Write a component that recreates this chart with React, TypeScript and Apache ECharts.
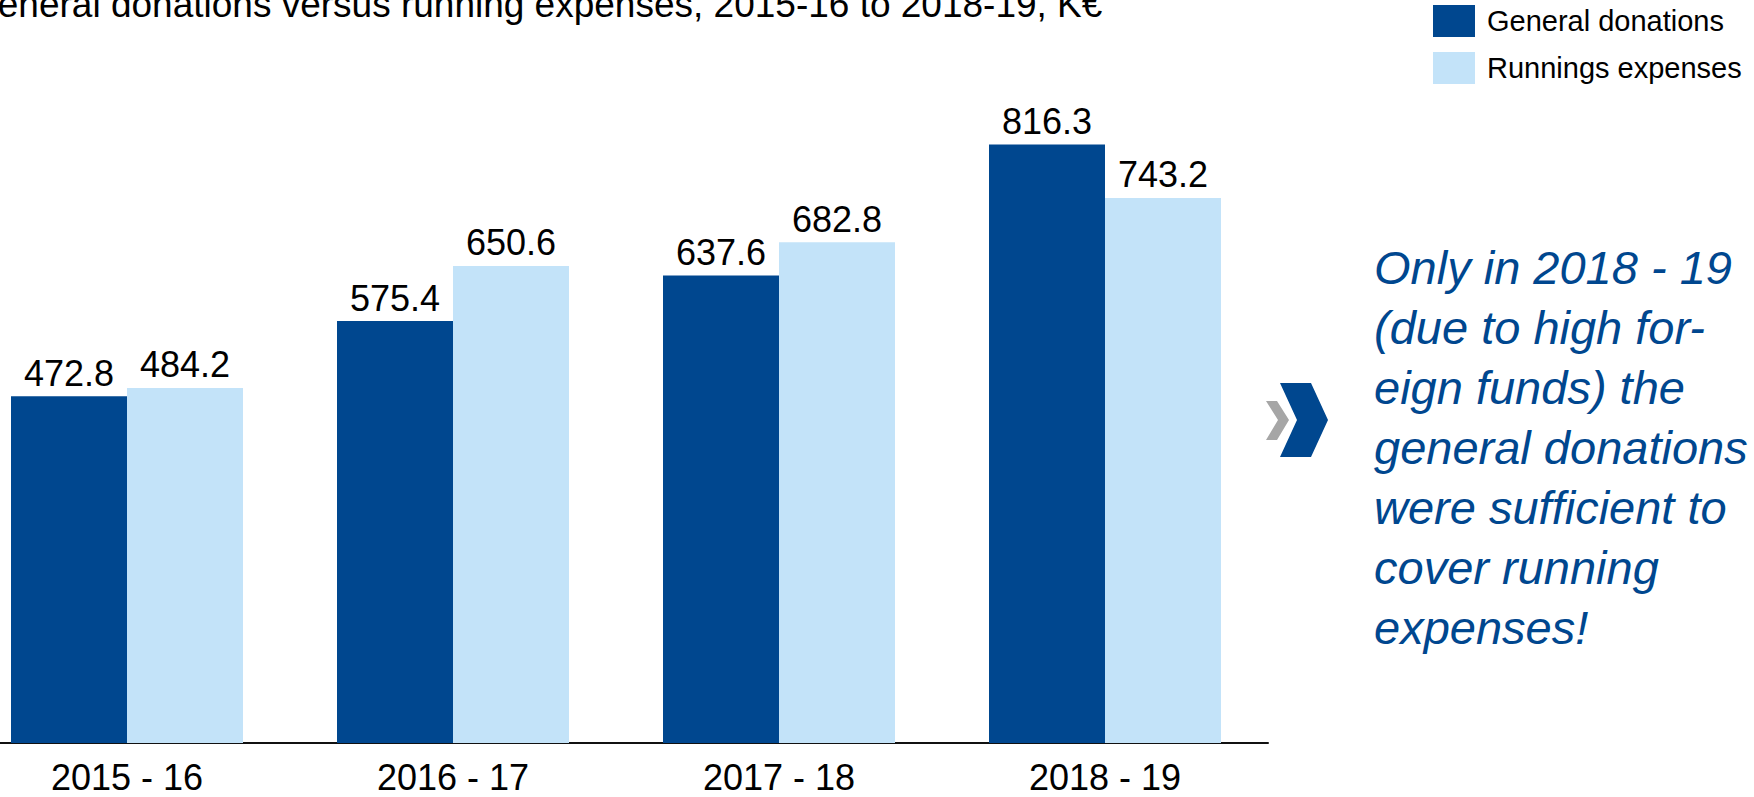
import React, { useEffect, useRef } from "react";
import * as echarts from "echarts";

const categories = ["2015 - 16", "2016 - 17", "2017 - 18", "2018 - 19"];
const generalDonations = [472.8, 575.4, 637.6, 816.3];
const runningExpenses = [484.2, 650.6, 682.8, 743.2];
const seriesNames = ["General donations", "Runnings expenses"];
const titleText = "General donations versus running expenses, 2015-16 to 2018-19, K€";
const noteLines = [
  "Only in 2018 - 19",
  "(due to high for-",
  "eign funds) the",
  "general donations",
  "were sufficient to",
  "cover running",
  "expenses!",
];

const DARK = "#00478F";
const LIGHT = "#C3E3F9";
const FONT = "'Liberation Sans', Arial, Helvetica, sans-serif";
const SHIFT = 36; // the chart canvas starts 36px left of the page edge

export default function App() {
  const ref = useRef<HTMLDivElement>(null);
  useEffect(() => {
    if (!ref.current) return;
    const chart = echarts.init(ref.current, null, { renderer: "svg" });
    const labelStyle = {
      show: true,
      position: "top" as const,
      distance: 5,
      fontSize: 36,
      fontFamily: FONT,
      color: "#000",
      formatter: (p: any) => p.value.toFixed(1),
    };
    const sx = (x: number) => x + SHIFT;
    chart.setOption({
      animation: false,
      backgroundColor: "#fff",
      textStyle: { fontFamily: FONT },
      grid: { left: 0, right: 486, top: 83, bottom: 54, containLabel: false },
      legend: {
        orient: "vertical",
        left: sx(1433),
        top: 5,
        itemWidth: 42,
        itemHeight: 32,
        itemGap: 15,
        icon: "rect",
        padding: 0,
        selectedMode: false,
        textStyle: { fontSize: 29, color: "#000", fontFamily: FONT, padding: [0, 0, 0, 7] },
        data: seriesNames,
      },
      xAxis: {
        type: "category",
        data: categories,
        axisLine: { show: true, lineStyle: { color: "#111", width: 2 } },
        axisTick: { show: false },
        axisLabel: { fontSize: 36, color: "#000", fontFamily: FONT, margin: 16, interval: 0 },
      },
      yAxis: {
        type: "value",
        min: 0,
        max: 900,
        show: false,
        splitLine: { show: false },
      },
      series: [
        {
          name: seriesNames[0],
          type: "bar",
          data: generalDonations,
          barWidth: 116,
          barGap: "0%",
          itemStyle: { color: DARK },
          label: labelStyle,
        },
        {
          name: seriesNames[1],
          type: "bar",
          data: runningExpenses,
          barWidth: 116,
          barGap: "0%",
          itemStyle: { color: LIGHT },
          label: labelStyle,
        },
      ],
      graphic: [
        {
          type: "text",
          left: sx(-31),
          top: -14,
          style: {
            text: titleText,
            fontSize: 37,
            fontFamily: FONT,
            fill: "#000",
          },
        },
        {
          type: "polygon",
          shape: {
            points: [
              [sx(1266), 401],
              [sx(1277), 401],
              [sx(1289), 420],
              [sx(1277), 440],
              [sx(1266), 440],
              [sx(1278), 420],
            ],
          },
          style: { fill: "#A6A6A6" },
        },
        {
          type: "polygon",
          shape: {
            points: [
              [sx(1280), 383],
              [sx(1311), 383],
              [sx(1328), 420],
              [sx(1311), 457],
              [sx(1280), 457],
              [sx(1297), 420],
            ],
          },
          style: { fill: DARK },
        },
        {
          type: "text",
          x: sx(1374),
          y: 237,
          style: {
            text: noteLines.join("\n"),
            fontSize: 47,
            fontStyle: "italic",
            fontFamily: FONT,
            lineHeight: 60,
            fill: DARK,
            verticalAlign: "top",
            align: "left",
          },
        },
      ],
    });
    return () => chart.dispose();
  }, []);
  return (
    <div
      ref={ref}
      style={{ position: "fixed", left: -SHIFT, top: 0, width: 1754 + SHIFT, height: 797 }}
    />
  );
}
